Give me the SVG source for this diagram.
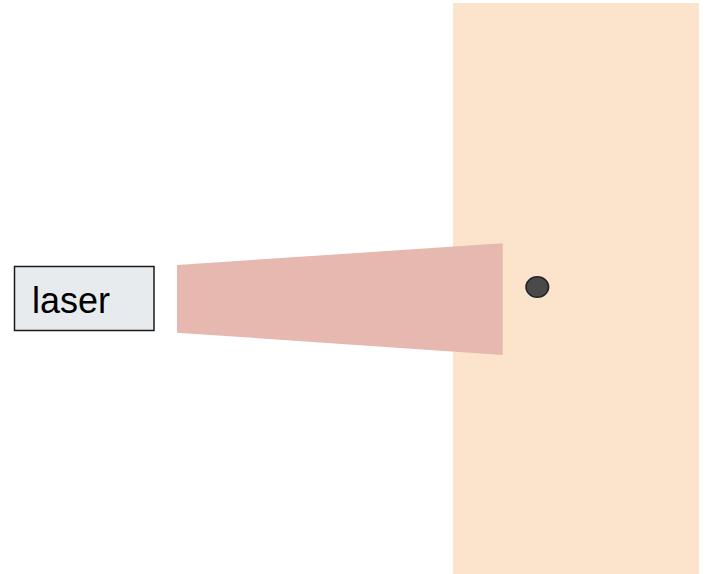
<svg xmlns="http://www.w3.org/2000/svg" width="706" height="574" viewBox="0 0 706 574">
<style>
.lbl{font-family:"Liberation Sans",Arial,sans-serif;font-size:36px;fill:#000}
</style>
<rect width="706" height="574" fill="#ffffff"/>
<g id="sample">
<rect x="453" y="3" width="246" height="571" fill="#fce4cc"/>
</g>
<g id="beam">
<polygon points="177,265 502.7,243.3 502.7,355 177,332.7" fill="#e6b8b0"/>
</g>
<g id="laser">
<rect x="14.5" y="266.5" width="139.5" height="64" fill="#e8ebed" stroke="#1a1a1a" stroke-width="1.5"/>
<text class="lbl" x="32" y="312.5">laser</text>
</g>
<g id="particle">
<ellipse cx="537.3" cy="287" rx="11.3" ry="10.2" fill="#4a4a4a" stroke="#222" stroke-width="1.5"/>
</g>
<g id="connectors"/>
</svg>
